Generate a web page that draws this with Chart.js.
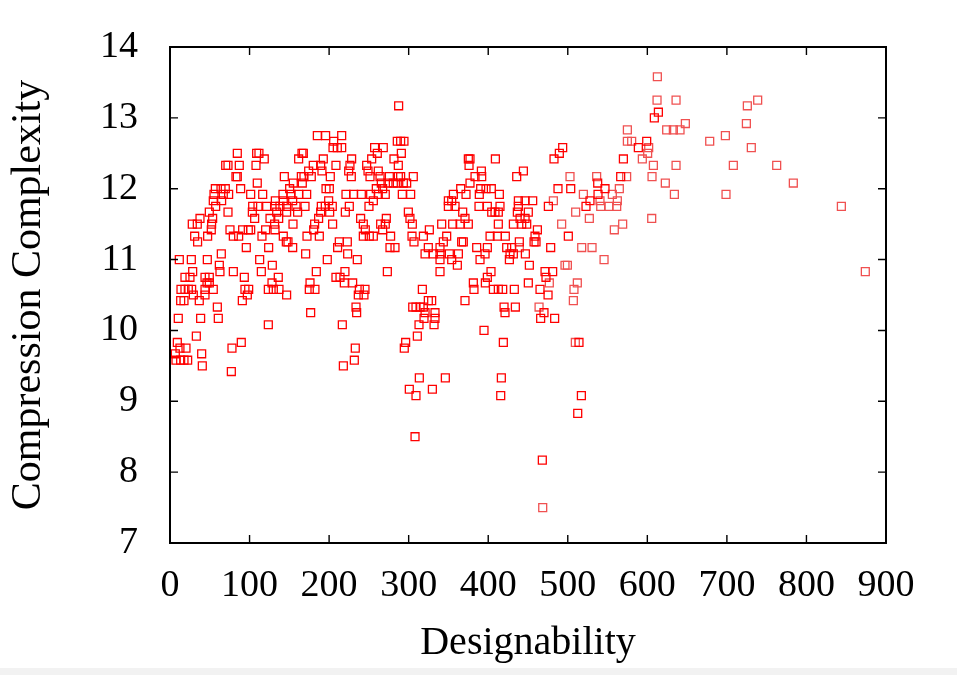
<!DOCTYPE html>
<html>
<head>
<meta charset="utf-8">
<script src="https://cdn.jsdelivr.net/npm/chart.js@4.4.1/dist/chart.umd.min.js"></script>
<style>
html,body{margin:0;padding:0;background:#fff;}
#wrap{position:relative;width:957px;height:675px;overflow:hidden;}
#strip{position:absolute;left:0;bottom:0;width:957px;height:7px;background:#f2f2f2;}
</style>
</head>
<body>
<div id="wrap"><canvas id="c" width="957" height="675"></canvas><div id="strip"></div></div>
<script>
// Tick labels
const xTicks = [0,100,200,300,400,500,600,700,800,900];
const yTicks = [7,8,9,10,11,12,13,14];
const xTitle = 'Designability';
const yTitle = 'Compression Complexity';

// Series 1: bright red squares [designability, complexity]
const redPoints = [
[287.4,13.17],
[185.2,12.75],[195.6,12.75],[215.8,12.75],
[205.7,12.67],[285.7,12.67],[289.9,12.67],[294.1,12.67],[599.2,12.67],
[204.9,12.58],[210.3,12.58],[215.8,12.58],[257.2,12.58],[268.1,12.58],[493.6,12.58],[588.7,12.58],
[84.6,12.5],[108.9,12.5],[111.8,12.5],[165.9,12.5],[167.6,12.5],[260.6,12.5],[290.8,12.5],[489.4,12.5],
[118.5,12.42],[161.7,12.42],[192.7,12.42],[228.3,12.42],[253.5,12.42],[281.5,12.42],[375.0,12.42],[377.1,12.42],[409.0,12.42],[482.7,12.42],[569.9,12.42],
[70.0,12.33],[72.9,12.33],[87.1,12.33],[108.1,12.33],[180.1,12.33],[189.4,12.33],[208.6,12.33],[226.2,12.33],[247.2,12.33],[287.0,12.33],[375.9,12.33],
[174.3,12.25],[191.0,12.25],[224.6,12.25],[248.9,12.25],[261.8,12.25],[391.4,12.25],[444.2,12.25],
[82.9,12.17],[84.6,12.17],[143.7,12.17],[165.1,12.17],[168.4,12.17],[177.6,12.17],[201.5,12.17],[227.9,12.17],[251.4,12.17],[264.0,12.17],[275.7,12.17],[287.0,12.17],[289.9,12.17],[305.8,12.17],[383.4,12.17],[391.8,12.17],[435.8,12.17],[566.5,12.17],
[109.7,12.08],[155.0,12.08],[166.3,12.08],[265.6,12.08],[274.0,12.08],[280.7,12.08],[285.7,12.08],[293.3,12.08],[297.5,12.08],[377.1,12.08],[537.6,12.08],
[57.0,12],[64.1,12],[69.5,12],[88.8,12],[150.4,12],[196.1,12],[200.3,12],[259.3,12],[267.3,12],[365.4,12],[390.5,12],[397.2,12],[403.9,12],[487.7,12],[503.7,12],[546.8,12],
[55.3,11.92],[67.0,11.92],[73.7,11.92],[101.4,11.92],[116.5,11.92],[142.0,11.92],[152.1,11.92],[161.7,11.92],[171.8,11.92],[221.2,11.92],[230.8,11.92],[240.5,11.92],[252.2,11.92],[261.8,11.92],[270.6,11.92],[292.0,11.92],[302.5,11.92],[356.2,11.92],[372.1,11.92],[388.8,11.92],[414.0,11.92],[538.0,11.92],
[54.4,11.83],[64.9,11.83],[132.4,11.83],[142.4,11.83],[154.2,11.83],[199.4,11.83],[255.6,11.83],[349.9,11.83],[354.1,11.83],[437.9,11.83],[446.3,11.83],[455.9,11.83],[527.9,11.83],
[57.4,11.75],[103.9,11.75],[110.6,11.75],[121.5,11.75],[132.0,11.75],[138.2,11.75],[146.6,11.75],[158.4,11.75],[169.7,11.75],[190.2,11.75],[195.2,11.75],[204.0,11.75],[225.4,11.75],[250.1,11.75],[349.9,11.75],[358.3,11.75],[388.4,11.75],[398.9,11.75],[414.8,11.75],[437.9,11.75],[475.6,11.75],[522.9,11.75],
[49.4,11.67],[72.9,11.67],[103.5,11.67],[134.1,11.67],[146.6,11.67],[160.4,11.67],[189.4,11.67],[200.7,11.67],[220.4,11.67],[299.6,11.67],[367.9,11.67],[404.4,11.67],[408.5,11.67],[412.7,11.67],[436.6,11.67],[450.4,11.67],
[37.7,11.58],[53.6,11.58],[106.4,11.58],[125.7,11.58],[136.6,11.58],[186.8,11.58],[239.6,11.58],[271.9,11.58],[301.6,11.58],[370.8,11.58],[440.0,11.58],[446.3,11.58],
[28.0,11.5],[34.3,11.5],[52.3,11.5],[131.5,11.5],[154.6,11.5],[181.8,11.5],[204.4,11.5],[243.0,11.5],[264.8,11.5],[270.6,11.5],[304.6,11.5],[341.5,11.5],[355.3,11.5],[364.6,11.5],[375.0,11.5],[412.7,11.5],[431.6,11.5],[442.1,11.5],[448.4,11.5],
[51.9,11.42],[75.4,11.42],[91.3,11.42],[98.4,11.42],[101.4,11.42],[120.2,11.42],[132.0,11.42],[180.6,11.42],[245.5,11.42],[267.3,11.42],[326.0,11.42],[461.8,11.42],
[31.0,11.33],[47.3,11.33],[79.6,11.33],[86.3,11.33],[115.6,11.33],[142.4,11.33],[172.2,11.33],[187.7,11.33],[243.0,11.33],[250.5,11.33],[255.6,11.33],[277.3,11.33],[304.2,11.33],[318.5,11.33],[347.8,11.33],[402.3,11.33],[411.5,11.33],[421.5,11.33],[458.8,11.33],[500.7,11.33],
[34.7,11.25],[146.2,11.25],[148.3,11.25],[212.8,11.25],[222.9,11.25],[306.7,11.25],[343.6,11.25],[366.6,11.25],[368.7,11.25],[439.1,11.25],[457.6,11.25],[460.1,11.25],
[95.9,11.17],[124.0,11.17],[154.2,11.17],[210.7,11.17],[276.5,11.17],[282.8,11.17],[324.7,11.17],[339.4,11.17],[385.5,11.17],[398.9,11.17],[423.2,11.17],[429.5,11.17],[478.5,11.17],
[64.5,11.08],[170.5,11.08],[223.3,11.08],[320.6,11.08],[331.0,11.08],[339.4,11.08],[351.1,11.08],[362.5,11.08],[396.0,11.08],[427.4,11.08],[431.6,11.08],[446.7,11.08],
[11.7,11],[26.8,11],[46.9,11],[112.7,11],[197.7,11],[235.4,11],[339.4,11],[354.1,11],[389.7,11],[426.6,11],
[62.0,10.92],[128.6,10.92],[361.2,10.92],[451.7,10.92],
[28.5,10.83],[62.8,10.83],[79.6,10.83],[114.8,10.83],[183.9,10.83],[219.9,10.83],[273.2,10.83],[339.4,10.83],[403.5,10.83],[471.4,10.83],[481.0,10.83],
[18.8,10.75],[25.1,10.75],[44.0,10.75],[49.4,10.75],[93.4,10.75],[136.1,10.75],[208.6,10.75],[213.7,10.75],[398.9,10.75],[472.6,10.75],
[46.5,10.67],[49.4,10.67],[128.2,10.67],[176.0,10.67],[219.1,10.67],[229.6,10.67],[381.3,10.67],[396.4,10.67],[450.4,10.67],
[13.8,10.58],[18.8,10.58],[23.0,10.58],[27.2,10.58],[44.0,10.58],[54.4,10.58],[94.2,10.58],[98.9,10.58],[123.6,10.58],[129.9,10.58],[137.0,10.58],[175.1,10.58],[182.2,10.58],[238.0,10.58],[245.1,10.58],[317.2,10.58],[382.1,10.58],[406.5,10.58],[412.7,10.58],[418.2,10.58],[432.8,10.58],[465.1,10.58],
[29.3,10.5],[44.0,10.5],[97.2,10.5],[146.6,10.5],[236.7,10.5],[243.8,10.5],[475.2,10.5],
[13.4,10.42],[17.6,10.42],[36.8,10.42],[90.9,10.42],[324.7,10.42],[328.9,10.42],[370.8,10.42],
[59.5,10.33],[233.8,10.33],[305.1,10.33],[309.2,10.33],[314.3,10.33],[318.5,10.33],[419.9,10.33],[434.1,10.33],
[176.8,10.25],[234.6,10.25],[320.6,10.25],[333.1,10.25],[421.1,10.25],[470.1,10.25],
[10.4,10.17],[38.5,10.17],[60.7,10.17],[319.3,10.17],[333.1,10.17],[465.9,10.17],[483.5,10.17],
[123.6,10.08],[216.6,10.08],[313.0,10.08],[331.9,10.08],
[394.7,10],
[33.1,9.92],[310.9,9.92],
[9.2,9.83],[89.6,9.83],[296.2,9.83],[419.0,9.83],[514.1,9.83],
[12.5,9.75],[20.1,9.75],[77.9,9.75],[232.9,9.75],[294.5,9.75],
[6.7,9.67],[39.8,9.67],
[7.5,9.58],[13.4,9.58],[17.6,9.58],[22.2,9.58],[231.7,9.58],
[40.6,9.5],[217.9,9.5],
[77.1,9.42],
[313.4,9.33],[346.1,9.33],[416.5,9.33],
[300.8,9.17],[329.8,9.17],
[309.2,9.08],[415.7,9.08],[517.1,9.08],
[512.5,8.83],
[308.0,8.5],
[468.0,8.17],
[613.9,13.08],[608.8,13.0]
];

// Series 2: light red squares [designability, complexity]
const pinkPoints = [
[612.6,13.58],
[612.2,13.25],[636.1,13.25],[738.7,13.25],
[725.7,13.17],
[647.8,12.92],[724.5,12.92],
[574.9,12.83],[624.3,12.83],[632.7,12.83],[641.1,12.83],
[698.1,12.75],
[574.9,12.67],[580.3,12.67],[678.4,12.67],
[601.7,12.58],[730.7,12.58],
[600.4,12.5],
[593.7,12.42],
[607.6,12.33],[636.1,12.33],[708.1,12.33],[762.6,12.33],
[502.8,12.17],[536.3,12.17],[574.0,12.17],[605.9,12.17],
[622.6,12.08],[783.5,12.08],
[564.8,12],
[519.6,11.92],[556.0,11.92],[634.0,11.92],[698.9,11.92],
[481.9,11.83],[540.5,11.83],[562.3,11.83],
[541.4,11.75],[551.8,11.75],[561.5,11.75],[843.9,11.75],
[509.9,11.67],
[527.1,11.58],[605.5,11.58],
[492.3,11.5],[569.0,11.5],
[558.5,11.42],
[439.1,11.17],[517.5,11.17],[530.5,11.17],
[545.6,11],
[496.5,10.92],[499.5,10.92],
[874.0,10.83],
[476.8,10.67],[512.0,10.67],
[507.8,10.58],
[507.0,10.42],
[463.9,10.33],
[509.5,9.83],
[468.5,7.5]
];

const FONT = "'Liberation Serif', 'Times New Roman', serif";

const framePlugin = {
  id: 'frame',
  afterDraw(chart) {
    const {ctx, chartArea: a, scales: {x, y}} = chart;
    ctx.save();
    ctx.strokeStyle = '#000';
    ctx.lineWidth = 1.4;
    ctx.beginPath();
    xTicks.forEach(v => {
      const p = x.getPixelForValue(v);
      ctx.moveTo(p, a.bottom); ctx.lineTo(p, a.bottom - 8);
      ctx.moveTo(p, a.top); ctx.lineTo(p, a.top + 8);
    });
    yTicks.forEach(v => {
      const p = y.getPixelForValue(v);
      ctx.moveTo(a.left, p); ctx.lineTo(a.left + 8, p);
      ctx.moveTo(a.right, p); ctx.lineTo(a.right - 8, p);
    });
    ctx.stroke();
    ctx.lineWidth = 2;
    ctx.strokeRect(a.left, a.top, a.right - a.left, a.bottom - a.top);
    ctx.restore();
  }
};

const toXY = arr => arr.map(([x, y]) => ({x, y}));

new Chart(document.getElementById('c'), {
  type: 'scatter',
  data: {
    datasets: [
      {
        label: 'red',
        data: toXY(redPoints),
        pointStyle: 'rect',
        pointRadius: 5.6,
        pointHoverRadius: 5.6,
        borderWidth: 1.3,
        borderColor: '#ff0000',
        backgroundColor: 'rgba(0,0,0,0)'
      },
      {
        label: 'light',
        data: toXY(pinkPoints),
        pointStyle: 'rect',
        pointRadius: 5.6,
        pointHoverRadius: 5.6,
        borderWidth: 1.3,
        borderColor: '#f05050',
        backgroundColor: 'rgba(0,0,0,0)'
      }
    ]
  },
  options: {
    responsive: false,
    animation: false,
    layout: { padding: { left: 0, right: 71, top: 47, bottom: 0 } },
    plugins: { legend: { display: false }, tooltip: { enabled: false } },
    scales: {
      x: {
        type: 'linear',
        min: 0, max: 900,
        afterBuildTicks: s => { s.ticks = xTicks.map(v => ({value: v})); },
        afterFit: s => { s.height = 132; },
        grid: { display: false },
        border: { display: false },
        ticks: { color: '#000', padding: 12, maxRotation: 0, font: { family: FONT, size: 38 } },
        title: { display: true, text: xTitle, color: '#000', font: { family: FONT, size: 40 }, padding: { top: 0, bottom: 8 } }
      },
      y: {
        type: 'linear',
        min: 7, max: 14,
        afterBuildTicks: s => { s.ticks = yTicks.map(v => ({value: v})); },
        afterFit: s => { s.width = 170; },
        grid: { display: false },
        border: { display: false },
        ticks: { color: '#000', padding: 24, font: { family: FONT, size: 38 } },
        title: { display: true, text: yTitle, color: '#000', font: { family: FONT, size: 42 }, padding: { top: 4, bottom: 0 } }
      }
    }
  },
  plugins: [framePlugin]
});
</script>
</body>
</html>
